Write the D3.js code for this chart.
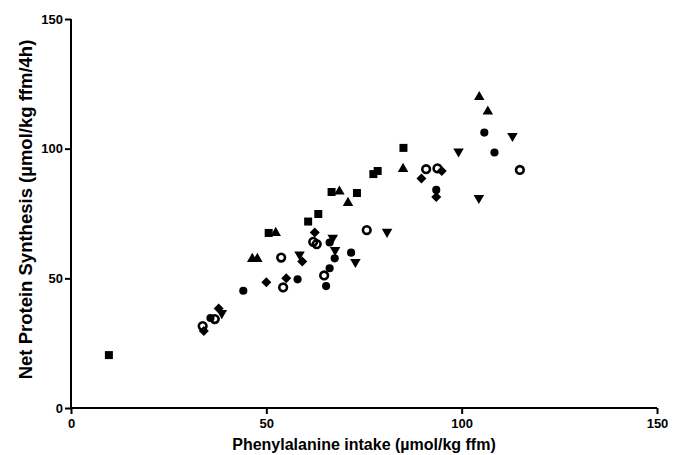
<!DOCTYPE html>
<html>
<head>
<meta charset="utf-8">
<script src="https://cdn.jsdelivr.net/npm/d3@7"></script>
<style>
  body { margin: 0; background: #fff; }
  svg text { font-family: "Liberation Sans", Arial, sans-serif; font-weight: bold; fill: #000; }
</style>
</head>
<body>
<div id="chart"></div>
<script>
// [phenylalanine intake, net protein synthesis] per marker group
const squares = [[9.7, 20.4], [50.6, 67.5], [60.7, 71.9], [63.3, 74.8], [66.7, 83.3],
  [73.2, 82.9], [77.4, 90.2], [78.5, 91.4], [85.1, 100.3]]
const trianglesUp = [[46.4, 57.5], [47.7, 57.5], [52.4, 67.5], [68.7, 83.5], [70.9, 79.1],
  [85.0, 92.2], [104.5, 119.9], [106.7, 114.3]]
const trianglesDown = [[38.6, 36.6], [58.5, 59.2], [67.0, 65.6], [67.6, 60.9], [72.8, 56.3],
  [80.9, 67.9], [99.2, 98.9], [104.4, 81.0], [113.0, 104.9]]
const diamonds = [[34.0, 29.7], [37.8, 38.4], [50.0, 48.5], [55.1, 50.0], [59.2, 56.5],
  [62.4, 67.7], [89.7, 88.5], [94.9, 91.4], [93.5, 81.4]]
const filledCircles = [[35.7, 34.7], [44.1, 45.2], [58.0, 49.6], [65.3, 47.0], [66.2, 53.9],
  [66.2, 63.8], [67.5, 57.7], [71.7, 59.9], [93.5, 84.1], [105.8, 106.2], [108.4, 98.5]]
const openCircles = [[33.7, 31.6], [36.8, 34.3], [53.8, 58.0], [54.3, 46.5], [62.0, 64.1],
  [62.9, 63.2], [64.8, 51.1], [75.7, 68.6], [90.9, 92.1], [93.8, 92.4], [114.9, 91.8]]

const xTicks = [0, 50, 100, 150]
const yTicks = [0, 50, 100, 150]
const xLabel = "Phenylalanine intake (µmol/kg ffm)"
const yLabel = "Net Protein Synthesis (µmol/kg ffm/4h)"

const W = 679, H = 455
const margin = { top: 19, right: 22, bottom: 47, left: 71 }
const width = W - margin.left - margin.right
const height = H - margin.top - margin.bottom

const svg = d3.select("#chart").append("svg")
    .attr("width", W)
    .attr("height", H)

const g = svg.append("g")
    .attr("transform", `translate(${margin.left},${margin.top})`)

const x = d3.scaleLinear().domain([0, 150]).range([0, width])
const y = d3.scaleLinear().domain([0, 150]).range([height, 0])

/* AXES */
const xAxis = g.append("g")
    .attr("transform", `translate(0,${height})`)
    .call(d3.axisBottom(x).tickValues(xTicks).tickSize(6).tickPadding(5))
const yAxis = g.append("g")
    .call(d3.axisLeft(y).tickValues(yTicks).tickSize(6).tickPadding(2))

;[xAxis, yAxis].forEach(a => {
    a.select(".domain").attr("stroke", "#000").attr("stroke-width", 2)
    a.selectAll(".tick line").attr("stroke", "#000").attr("stroke-width", 2)
    a.selectAll(".tick text").style("font-size", "13px")
})
xAxis.select(".domain").attr("d", `M0,0H${width}`)
yAxis.select(".domain").attr("d", `M0,${height}V0`)

svg.append("text")
    .attr("x", margin.left + width / 2)
    .attr("y", 450)
    .attr("text-anchor", "middle")
    .style("font-size", "16px")
    .text(xLabel)

svg.append("text")
    .attr("transform", `translate(32,${margin.top + height / 2 - 4}) rotate(-90)`)
    .attr("text-anchor", "middle")
    .style("font-size", "18.5px")
    .text(yLabel)

/* MARKERS */
function drawPoints(data, type, size, rotate, open) {
    g.append("g").selectAll("path")
        .data(data)
        .join("path")
        .attr("d", d3.symbol().type(type).size(size))
        .attr("transform", d => `translate(${x(d[0])},${y(d[1])}) rotate(${rotate})`)
        .attr("fill", open ? "none" : "#000")
        .attr("stroke", open ? "#000" : "none")
        .attr("stroke-width", open ? 2.6 : 0)
}

drawPoints(squares, d3.symbolSquare, 64, 0, false)
drawPoints(trianglesUp, d3.symbolTriangle, 48, 0, false)
drawPoints(trianglesDown, d3.symbolTriangle, 48, 180, false)
drawPoints(diamonds, d3.symbolSquare, 50, 45, false)
drawPoints(filledCircles, d3.symbolCircle, 52, 0, false)
drawPoints(openCircles, d3.symbolCircle, 46, 0, true)
</script>
</body>
</html>
